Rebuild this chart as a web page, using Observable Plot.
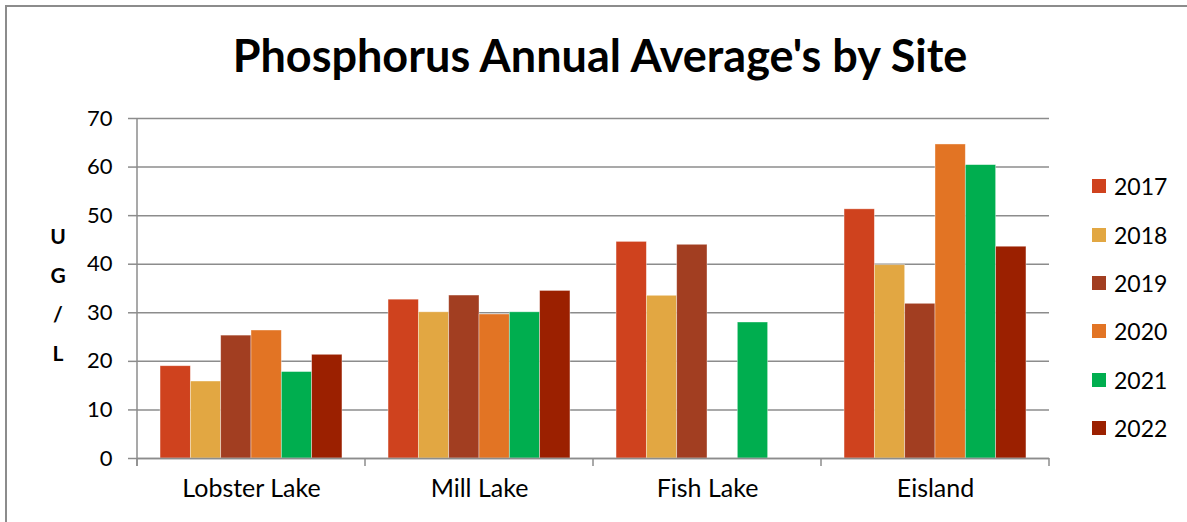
<!DOCTYPE html>
<html><head><meta charset="utf-8">
<script src="https://cdn.jsdelivr.net/npm/d3@7"></script>
<script src="https://cdn.jsdelivr.net/npm/@observablehq/plot@0.6"></script>
<style>
body{margin:0;background:#fff;overflow:hidden;font-family:Lato,"Open Sans",sans-serif;color:#000;}
#wrap{position:relative;width:1187px;height:522px;overflow:hidden;background:#fff;}
#border{position:absolute;left:5px;top:5px;width:1400px;height:800px;border:2px solid #8c8c8c;box-sizing:border-box;}
#chart{position:absolute;left:0;top:0;}
#title{position:absolute;left:0;width:1200px;top:28px;text-align:center;font-weight:700;font-size:45px;line-height:54px;white-space:nowrap;}
#ylab{position:absolute;left:40px;width:36px;top:216px;text-align:center;font-weight:700;font-size:21px;line-height:39px;}
#legend{position:absolute;left:1092px;top:162px;}
.row{height:48.4px;display:flex;align-items:center;font-size:23px;}
.sw{width:14px;height:14px;margin-right:8px;}
</style>
</head><body>
<div id="wrap">
<div id="border"></div>
<div id="chart"></div>
<div id="title"></div>
<div id="ylab"></div>
<div id="legend"></div>
</div>
<script>
const titleText = "Phosphorus Annual Average's by Site";
const yLabelLetters = ["U", "G", "/", "L"];
const sites = ["Lobster Lake", "Mill Lake", "Fish Lake", "Eisland"];
const years = ["2017", "2018", "2019", "2020", "2021", "2022"];
const v2017 = [19.0, 32.7, 44.6, 51.3];
const v2018 = [15.85, 30.1, 33.5, 39.8];
const v2019 = [25.3, 33.55, 44.0, 31.85];
const v2020 = [26.35, 29.65, null, 64.65];
const v2021 = [17.8, 30.1, 28.0, 60.4];
const v2022 = [21.35, 34.5, null, 43.6];
const colors = ["#CF421E", "#E2A742", "#A23E21", "#E27424", "#00AE4F", "#9B2000"];
const yTicks = [0, 10, 20, 30, 40, 50, 60, 70];

const series = [v2017, v2018, v2019, v2020, v2021, v2022];
const data = [];
sites.forEach((s, i) => years.forEach((yr, j) => {
  const v = series[j][i];
  if (v != null) data.push({site: s, year: yr, value: v});
}));

const axisColor = "#8c8c8c";
const chart = Plot.plot({
  width: 1187, height: 522,
  marginLeft: 137, marginRight: 138, marginTop: 118, marginBottom: 64,
  style: {fontFamily: "Lato, 'Open Sans', sans-serif", fontSize: "22px", color: "#000", background: "transparent"},
  fx: {domain: sites, padding: 0, label: null},
  x: {domain: years, paddingInner: 0, paddingOuter: 0.76, round: false, axis: null},
  y: {domain: [0, 70], label: null},
  color: {domain: years, range: colors},
  marks: [
    Plot.gridY(yTicks, {stroke: axisColor, strokeOpacity: 1, strokeWidth: 1.5}),
    Plot.barY(data, {fx: "site", x: "year", y: "value", fill: "year", stroke: "#fff", strokeOpacity: 0.5, strokeWidth: 0.75}),
    Plot.ruleY([0], {stroke: axisColor, strokeWidth: 1.5}),
    Plot.axisY(yTicks, {tickSize: 9, tickPadding: 16, stroke: axisColor, strokeWidth: 1.5, fill: "#000", fontSize: 22, tickFormat: d => String(d), label: null}),
    Plot.axisFx({anchor: "bottom", tickSize: 0, tickPadding: 21, fill: "#000", fontSize: 25, label: null})
  ]
});
document.getElementById("chart").appendChild(chart);

// axis line and category boundary ticks, positioned with the plot's own scales
const fx = chart.scale("fx"), y = chart.scale("y");
const svg = d3.select(chart);
const g = svg.append("g").attr("stroke", axisColor).attr("stroke-width", 1.5);
const x0 = fx.apply(sites[0]);
g.append("line").attr("x1", x0).attr("x2", x0).attr("y1", y.apply(70)).attr("y2", y.apply(0) + 8);
const edges = sites.map(s => fx.apply(s)).concat([fx.apply(sites[sites.length - 1]) + fx.bandwidth]);
edges.forEach(e => g.append("line").attr("x1", e).attr("x2", e).attr("y1", y.apply(0)).attr("y2", y.apply(0) + 8));

document.getElementById("title").textContent = titleText;
document.getElementById("ylab").innerHTML = yLabelLetters.map(l => `<div>${l}</div>`).join("");
const leg = d3.select("#legend");
years.forEach((yr, i) => {
  const r = leg.append("div").attr("class", "row");
  r.append("div").attr("class", "sw").style("background", colors[i]);
  r.append("span").text(yr);
});
</script>
</body></html>
